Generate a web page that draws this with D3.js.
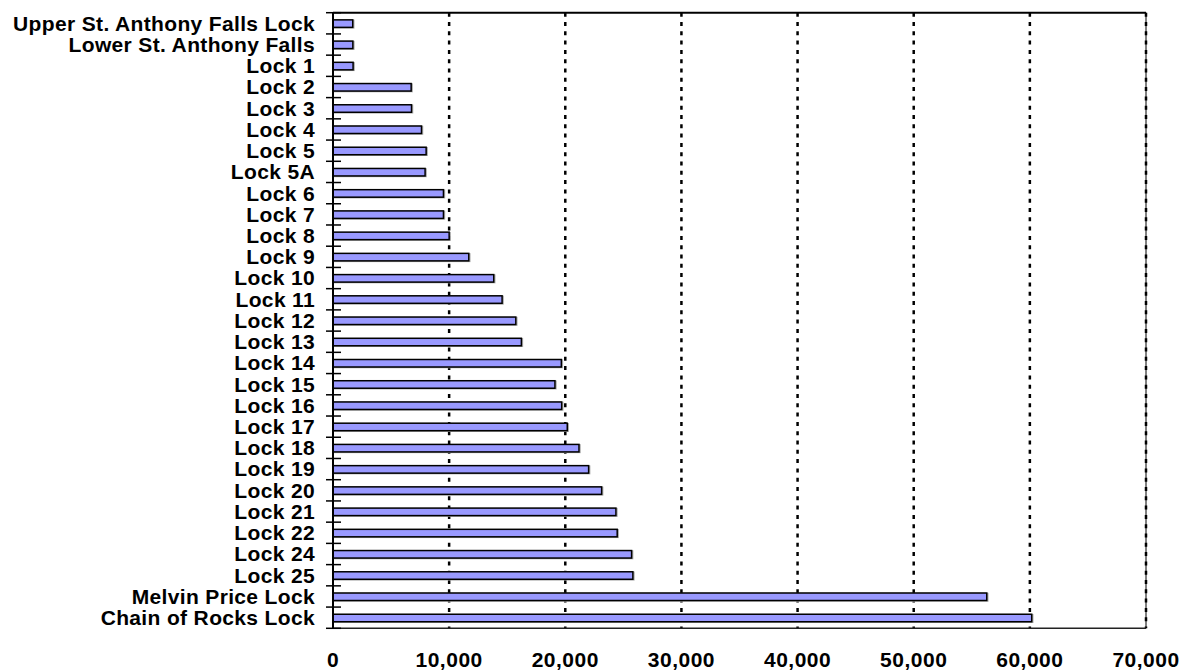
<!DOCTYPE html>
<html>
<head>
<meta charset="utf-8">
<script src="https://cdn.jsdelivr.net/npm/d3@7"></script>
<style>
  html, body { margin: 0; padding: 0; background: #fff; }
  svg { display: block; }
  text { font-family: "Liberation Sans", Arial, sans-serif; font-weight: bold; fill: #000; }
</style>
</head>
<body>
<svg id="chart" width="1180" height="671"></svg>
<script>
const categories = [
  "Upper St. Anthony Falls Lock", "Lower St. Anthony Falls", "Lock 1", "Lock 2", "Lock 3",
  "Lock 4", "Lock 5", "Lock 5A", "Lock 6", "Lock 7", "Lock 8", "Lock 9", "Lock 10",
  "Lock 11", "Lock 12", "Lock 13", "Lock 14", "Lock 15", "Lock 16", "Lock 17", "Lock 18",
  "Lock 19", "Lock 20", "Lock 21", "Lock 22", "Lock 24", "Lock 25",
  "Melvin Price Lock", "Chain of Rocks Lock"
];
const values = [
  1700, 1710, 1730, 6730, 6760,
  7620, 8020, 7930, 9510, 9510, 10000, 11690, 13840,
  14560, 15740, 16220, 19660, 19110, 19690, 20170, 21180,
  22010, 23130, 24360, 24470, 25710, 25820,
  56290, 60160
];
const xTicks = [0, 10000, 20000, 30000, 40000, 50000, 60000, 70000];
const xMax = 70000;

(function () {
const svg = d3.select("#chart");
const mLeft = 333, mRight = 1146, mTop = 12.7, mBottom = 628.3;

const x = d3.scaleLinear().domain([0, xMax]).range([mLeft, mRight]);
const y = d3.scaleBand().domain(categories).range([mTop, mBottom]).padding(0);

// gridlines
svg.append("g").selectAll("line")
  .data(xTicks.filter(d => d > 0))
  .join("line")
  .attr("x1", d => x(d)).attr("x2", d => x(d))
  .attr("y1", mTop).attr("y2", mBottom)
  .attr("stroke", "#000").attr("stroke-width", 2.5)
  .attr("stroke-dasharray", "4,5.3");

// frame
svg.append("line").attr("x1", mLeft).attr("x2", mRight).attr("y1", mTop).attr("y2", mTop)
  .attr("stroke", "#000").attr("stroke-width", 2);
svg.append("line").attr("x1", mRight).attr("x2", mRight).attr("y1", mTop).attr("y2", mBottom)
  .attr("stroke", "#000").attr("stroke-width", 1);
svg.append("line").attr("x1", mLeft).attr("x2", mRight).attr("y1", mBottom).attr("y2", mBottom)
  .attr("stroke", "#222").attr("stroke-width", 1.5);

// bars
const barH = 7.5;
const data = categories.map((c, i) => ({c, v: values[i]}));
svg.append("g").selectAll("rect.shadow")
  .data(data).join("rect")
  .attr("class", "shadow")
  .attr("x", x(0) + 1)
  .attr("y", d => y(d.c) + y.bandwidth() / 2 - barH / 2 + 0.8)
  .attr("width", d => x(d.v) - x(0))
  .attr("height", barH)
  .attr("fill", "none").attr("stroke", "#aaa").attr("stroke-width", 1.5);
svg.append("g").selectAll("rect.bar")
  .data(data).join("rect")
  .attr("class", "bar")
  .attr("x", x(0))
  .attr("y", d => y(d.c) + y.bandwidth() / 2 - barH / 2 + 0.3)
  .attr("width", d => x(d.v) - x(0))
  .attr("height", barH)
  .attr("fill", "#9999FF").attr("stroke", "#000").attr("stroke-width", 1.5);

// left axis line
svg.append("line").attr("x1", mLeft).attr("x2", mLeft).attr("y1", mTop).attr("y2", mBottom)
  .attr("stroke", "#000").attr("stroke-width", 2);

// category boundary ticks
const bounds = categories.map(c => y(c)).concat([mBottom]);
svg.append("g").selectAll("line")
  .data(bounds).join("line")
  .attr("x1", mLeft - 7).attr("x2", mLeft + 8)
  .attr("y1", d => d).attr("y2", d => d)
  .attr("stroke", "#000").attr("stroke-width", 1.5);

// category labels
svg.append("g").selectAll("text")
  .data(categories).join("text")
  .attr("x", 315)
  .attr("y", d => y(d) + y.bandwidth() / 2 + 7.4)
  .attr("text-anchor", "end")
  .attr("font-size", 21)
  .attr("letter-spacing", 0.35)
  .text(d => d);

// x tick labels
const fmt = d3.format(",");
svg.append("g").selectAll("text")
  .data(xTicks).join("text")
  .attr("x", d => x(d))
  .attr("y", 667)
  .attr("text-anchor", "middle")
  .attr("font-size", 21)
  .attr("letter-spacing", 0.5)
  .text(d => fmt(d));
})();
</script>
</body>
</html>
